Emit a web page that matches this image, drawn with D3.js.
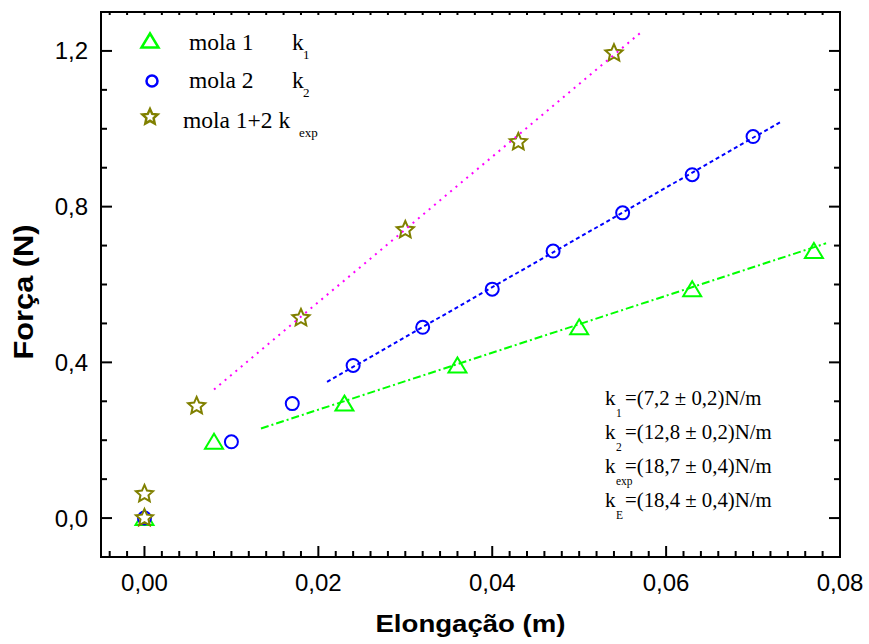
<!DOCTYPE html>
<html>
<head>
<meta charset="utf-8">
<script src="https://cdn.jsdelivr.net/npm/d3@7"></script>
<style>
  html, body { margin: 0; padding: 0; background: #fff; }
  svg { display: block; }
</style>
</head>
<body>
<svg id="chart" width="869" height="644"></svg>
<script>
// ---------------- data ----------------
const mola1X = [0, 0.008, 0.023, 0.036, 0.050, 0.063, 0.077];
const mola1Y = [0, 0.196, 0.294, 0.392, 0.490, 0.588, 0.686];

const mola2X = [0, 0.010, 0.017, 0.024, 0.032, 0.040, 0.047, 0.055, 0.063, 0.070];
const mola2Y = [0, 0.196, 0.294, 0.392, 0.490, 0.588, 0.686, 0.784, 0.882, 0.980];

const mola12X = [0, 0, 0.006, 0.018, 0.030, 0.043, 0.054];
const mola12Y = [0, 0.062, 0.288, 0.514, 0.740, 0.966, 1.194];

// linear fits: [slope, intercept, xStart, xEnd]
const fit1 = [7.32, 0.132, 0.0134, 0.0784];
const fit2 = [12.8, 0.081, 0.0210, 0.0732];
const fit12 = [18.68, 0.181, 0.0080, 0.0572];

const xTickValues = [0, 0.02, 0.04, 0.06, 0.08];
const xTickLabels = ["0,00", "0,02", "0,04", "0,06", "0,08"];
const yTickValues = [0, 0.4, 0.8, 1.2];
const yTickLabels = ["0,0", "0,4", "0,8", "1,2"];

const legendNames = ["mola 1", "mola 2", "mola 1+2 k"];
const legendK = ["k", "k", ""];
const legendSubs = ["1", "2", "exp"];

const annoSubs = ["1", "2", "exp", "E"];
const annoTexts = ["=(7,2 \u00B1 0,2)N/m", "=(12,8 \u00B1 0,2)N/m", "=(18,7 \u00B1 0,4)N/m", "=(18,4 \u00B1 0,4)N/m"];

// ---------------- layout ----------------
const svg = d3.select("#chart");
const L = 101, R = 840, T = 12, B = 557;
const x = d3.scaleLinear().domain([-0.005, 0.08]).range([L, R]);
const y = d3.scaleLinear().domain([-0.1, 1.3]).range([B, T]);

const green = "#00ff00", blue = "#0000ff", olive = "#808000", magenta = "#ff00ff";

// ---------------- axes ----------------
const xMinor = d3.range(-4, 81, 2).map(d => d / 1000).filter(v => !xTickValues.some(t => Math.abs(t - v) < 1e-9));
const yMinor = d3.range(0, 13, 1).map(d => d / 10).filter(v => !yTickValues.some(t => Math.abs(t - v) < 1e-9));

const gAx = svg.append("g").attr("stroke", "#000").attr("stroke-width", 2);
gAx.selectAll(".xb").data(xTickValues).join("line").attr("class", "xb")
  .attr("x1", d => x(d)).attr("x2", d => x(d)).attr("y1", B).attr("y2", B - 11);
gAx.selectAll(".xbm").data(xMinor).join("line").attr("class", "xbm")
  .attr("x1", d => x(d)).attr("x2", d => x(d)).attr("y1", B).attr("y2", B - 6);
gAx.selectAll(".xt").data(xTickValues.concat(xMinor)).join("line").attr("class", "xt")
  .attr("x1", d => x(d)).attr("x2", d => x(d)).attr("y1", T).attr("y2", T + 3);
gAx.selectAll(".yl").data(yTickValues).join("line").attr("class", "yl")
  .attr("y1", d => y(d)).attr("y2", d => y(d)).attr("x1", L).attr("x2", L + 11);
gAx.selectAll(".ylm").data(yMinor).join("line").attr("class", "ylm")
  .attr("y1", d => y(d)).attr("y2", d => y(d)).attr("x1", L).attr("x2", L + 6);
gAx.selectAll(".yr").data(yTickValues).join("line").attr("class", "yr")
  .attr("y1", d => y(d)).attr("y2", d => y(d)).attr("x1", R).attr("x2", R - 11);
gAx.selectAll(".yrm").data(yMinor).join("line").attr("class", "yrm")
  .attr("y1", d => y(d)).attr("y2", d => y(d)).attr("x1", R).attr("x2", R - 6);

// tick labels
svg.append("g").selectAll("text").data(xTickValues).join("text")
  .attr("x", d => x(d)).attr("y", 591)
  .attr("text-anchor", "middle")
  .attr("font-family", "Liberation Sans, Arial, sans-serif").attr("font-size", 24)
  .text((d, i) => xTickLabels[i]);
svg.append("g").selectAll("text").data(yTickValues).join("text")
  .attr("x", 88).attr("y", d => y(d) + 8.5)
  .attr("text-anchor", "end")
  .attr("font-family", "Liberation Sans, Arial, sans-serif").attr("font-size", 24)
  .text((d, i) => yTickLabels[i]);

// axis titles
svg.append("text")
  .attr("transform", `translate(${(L + R) / 2},632) scale(1.2,1)`)
  .attr("text-anchor", "middle")
  .attr("font-family", "Liberation Sans, Arial, sans-serif").attr("font-weight", "bold").attr("font-size", 23)
  .text("Elongação (m)");
svg.append("text")
  .attr("transform", `translate(33,292) rotate(-90) scale(1.14,1)`)
  .attr("text-anchor", "middle")
  .attr("font-family", "Liberation Sans, Arial, sans-serif").attr("font-weight", "bold").attr("font-size", 27)
  .text("Força (N)");

// ---------------- markers ----------------
function starPath(R1, r1) {
  const pts = [];
  for (let i = 0; i < 10; i++) {
    const a = -Math.PI / 2 + i * Math.PI / 5;
    const rr = i % 2 === 0 ? R1 : r1;
    pts.push([rr * Math.cos(a), rr * Math.sin(a)]);
  }
  return "M" + pts.map(p => p.join(",")).join("L") + "Z";
}
const triPath = "M0,-8L9,7L-9,7Z";
const star = starPath(9, 4.2);

const gPts = svg.append("g");
function drawPoints(xs, ys, kind, color) {
  const data = xs.map((v, i) => [v, ys[i]]);
  const sel = gPts.append("g").selectAll("g").data(data).join("g")
    .attr("transform", d => `translate(${x(d[0])},${y(d[1])})`);
  if (kind === "circle") {
    sel.append("circle").attr("r", 6.5).attr("fill", "#fff").attr("stroke", color).attr("stroke-width", 2);
  } else {
    sel.append("path").attr("d", kind === "tri" ? triPath : star)
      .attr("fill", "#fff").attr("stroke", color).attr("stroke-width", 2).attr("stroke-linejoin", "miter");
  }
}
drawPoints(mola1X, mola1Y, "tri", green);
drawPoints(mola2X, mola2Y, "circle", blue);
drawPoints(mola12X, mola12Y, "star", olive);

// ---------------- fit lines ----------------
function drawFit(f, color, dash) {
  const pts = [f[2], f[3]].map(v => [v, f[0] * v + f[1]]);
  svg.append("path")
    .attr("d", d3.line().x(d => x(d[0])).y(d => y(d[1]))(pts))
    .attr("fill", "none").attr("stroke", color).attr("stroke-width", 2)
    .attr("stroke-dasharray", dash);
}
drawFit(fit1, green, "8,3,2,3");
drawFit(fit2, blue, "4,3");
drawFit(fit12, magenta, "2,5");

// frame on top
svg.append("rect").attr("x", L).attr("y", T).attr("width", R - L).attr("height", B - T)
  .attr("fill", "none").attr("stroke", "#000").attr("stroke-width", 2);

// ---------------- legend ----------------
const serif = "Liberation Serif, Times New Roman, serif";
const legY = [50, 88, 128];
const legSym = [["tri", green, 150, 41], ["circle", blue, 152, 81], ["star", olive, 150, 117]];
legSym.forEach((s) => {
  const g = svg.append("g").attr("transform", `translate(${s[2]},${s[3]})`);
  if (s[0] === "circle") g.append("circle").attr("r", 5.5).attr("fill", "#fff").attr("stroke", s[1]).attr("stroke-width", 2.5);
  else g.append("path").attr("d", s[0] === "tri" ? "M0,-7.5L8.5,6.5L-8.5,6.5Z" : starPath(8, 3.8))
    .attr("fill", "#fff").attr("stroke", s[1]).attr("stroke-width", 2.5);
});
legendNames.forEach((n, i) => {
  svg.append("text").attr("x", i === 2 ? 183 : 189).attr("y", legY[i])
    .attr("font-family", serif).attr("font-size", 23.5).text(n);
  if (legendK[i]) svg.append("text").attr("x", 292).attr("y", legY[i])
    .attr("font-family", serif).attr("font-size", 23.5).text(legendK[i]);
  svg.append("text").attr("x", i === 2 ? 299 : 303).attr("y", legY[i] + 8.5)
    .attr("font-family", serif).attr("font-size", 13).text(legendSubs[i]);
});

// ---------------- annotation ----------------
const annoY = [405, 439, 473, 507];
annoTexts.forEach((t, i) => {
  svg.append("text").attr("x", 605).attr("y", annoY[i])
    .attr("font-family", serif).attr("font-size", 21).text("k");
  svg.append("text").attr("x", 616).attr("y", annoY[i] + 12)
    .attr("font-family", serif).attr("font-size", 11.5).text(annoSubs[i]);
  svg.append("text").attr("x", 625).attr("y", annoY[i])
    .attr("font-family", serif).attr("font-size", 20.8).text(t);
});
</script>
</body>
</html>
